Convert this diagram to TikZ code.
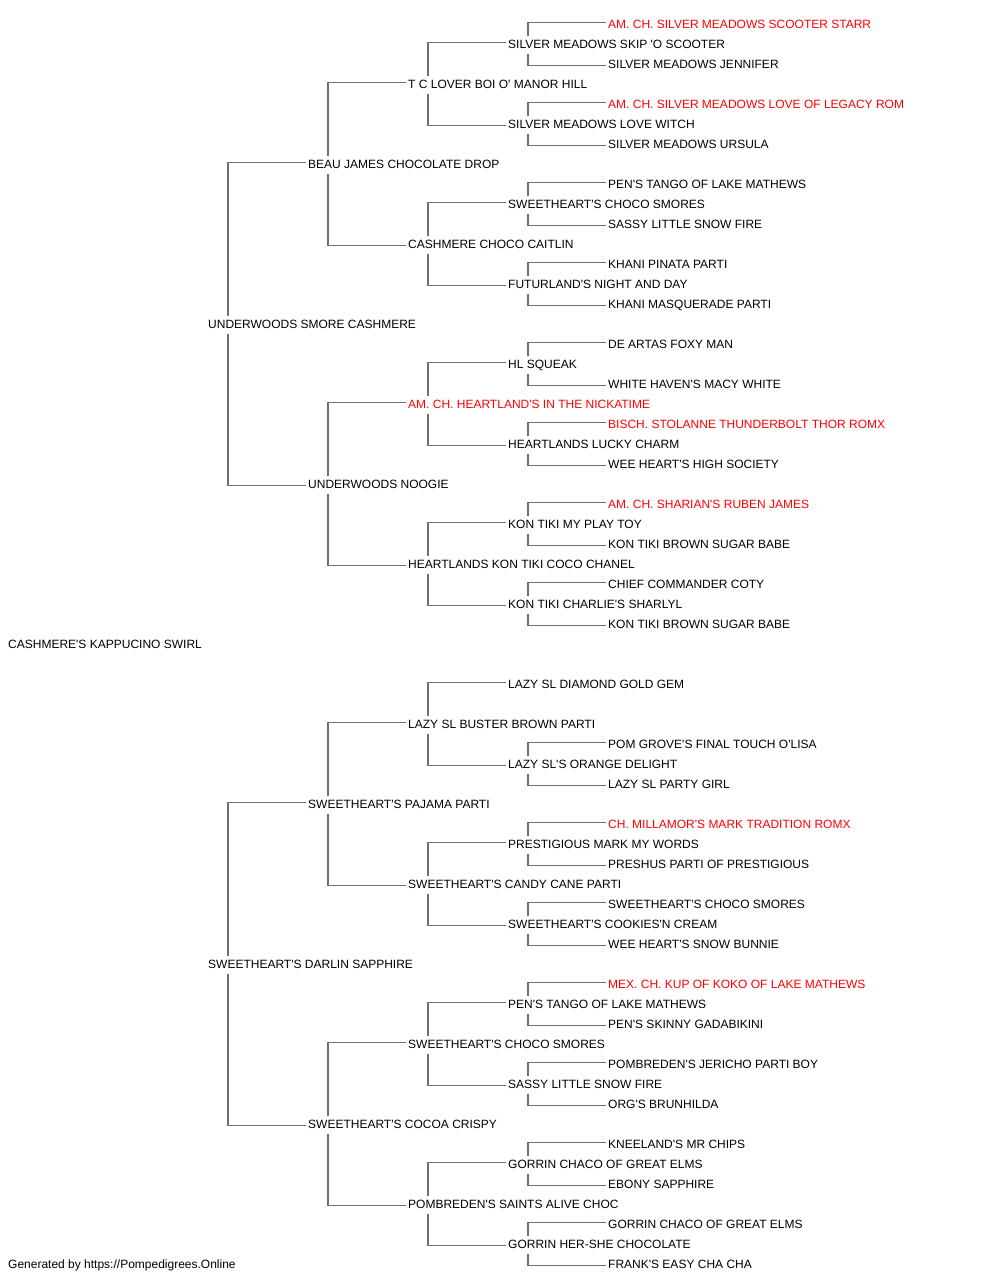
\documentclass[tikz,border=0pt]{standalone}
\usepackage{fontspec}
\setmainfont{Liberation Sans}[Ligatures=TeXOff]
\usepackage{tikz}
\usetikzlibrary{calc}
\definecolor{linkgray}{HTML}{707070}
\definecolor{champred}{HTML}{FF0000}
\tikzset{
  dog/.style={anchor=west, inner sep=0pt, text height=8.6pt, text depth=0pt, font=\fontsize{12}{14}\selectfont},
  link/.style={draw=linkgray, line width=1.8pt},
}

\begin{document}
\begin{tikzpicture}[x=1pt, y=-1pt]
  \useasboundingbox (0,0) rectangle (1000,1280);

  %% === Names: row / column / colour / text ===
  % row k sits at y = 24 + 20k, column c at x = 8 + 100c
  \foreach \k/\c/\col/\txt in {
    0/6/champred/AM. CH. SILVER MEADOWS SCOOTER STARR,
    1/5/black/SILVER MEADOWS SKIP 'O SCOOTER,
    2/6/black/SILVER MEADOWS JENNIFER,
    3/4/black/T C LOVER BOI O' MANOR HILL,
    4/6/champred/AM. CH. SILVER MEADOWS LOVE OF LEGACY ROM,
    5/5/black/SILVER MEADOWS LOVE WITCH,
    6/6/black/SILVER MEADOWS URSULA,
    7/3/black/BEAU JAMES CHOCOLATE DROP,
    8/6/black/PEN'S TANGO OF LAKE MATHEWS,
    9/5/black/SWEETHEART'S CHOCO SMORES,
    10/6/black/SASSY LITTLE SNOW FIRE,
    11/4/black/CASHMERE CHOCO CAITLIN,
    12/6/black/KHANI PINATA PARTI,
    13/5/black/FUTURLAND'S NIGHT AND DAY,
    14/6/black/KHANI MASQUERADE PARTI,
    15/2/black/UNDERWOODS SMORE CASHMERE,
    16/6/black/DE ARTAS FOXY MAN,
    17/5/black/HL SQUEAK,
    18/6/black/WHITE HAVEN'S MACY WHITE,
    19/4/champred/AM. CH. HEARTLAND'S IN THE NICKATIME,
    20/6/champred/BISCH. STOLANNE THUNDERBOLT THOR ROMX,
    21/5/black/HEARTLANDS LUCKY CHARM,
    22/6/black/WEE HEART'S HIGH SOCIETY,
    23/3/black/UNDERWOODS NOOGIE,
    24/6/champred/AM. CH. SHARIAN'S RUBEN JAMES,
    25/5/black/KON TIKI MY PLAY TOY,
    26/6/black/KON TIKI BROWN SUGAR BABE,
    27/4/black/HEARTLANDS KON TIKI COCO CHANEL,
    28/6/black/CHIEF COMMANDER COTY,
    29/5/black/KON TIKI CHARLIE'S SHARLYL,
    30/6/black/KON TIKI BROWN SUGAR BABE,
    31/0/black/CASHMERE'S KAPPUCINO SWIRL,
    33/5/black/LAZY SL DIAMOND GOLD GEM,
    35/4/black/LAZY SL BUSTER BROWN PARTI,
    36/6/black/POM GROVE'S FINAL TOUCH O'LISA,
    37/5/black/LAZY SL'S ORANGE DELIGHT,
    38/6/black/LAZY SL PARTY GIRL,
    39/3/black/SWEETHEART'S PAJAMA PARTI,
    40/6/champred/CH. MILLAMOR'S MARK TRADITION ROMX,
    41/5/black/PRESTIGIOUS MARK MY WORDS,
    42/6/black/PRESHUS PARTI OF PRESTIGIOUS,
    43/4/black/SWEETHEART'S CANDY CANE PARTI,
    44/6/black/SWEETHEART'S CHOCO SMORES,
    45/5/black/SWEETHEART'S COOKIES'N CREAM,
    46/6/black/WEE HEART'S SNOW BUNNIE,
    47/2/black/SWEETHEART'S DARLIN SAPPHIRE,
    48/6/champred/MEX. CH. KUP OF KOKO OF LAKE MATHEWS,
    49/5/black/PEN'S TANGO OF LAKE MATHEWS,
    50/6/black/PEN'S SKINNY GADABIKINI,
    51/4/black/SWEETHEART'S CHOCO SMORES,
    52/6/black/POMBREDEN'S JERICHO PARTI BOY,
    53/5/black/SASSY LITTLE SNOW FIRE,
    54/6/black/ORG'S BRUNHILDA,
    55/3/black/SWEETHEART'S COCOA CRISPY,
    56/6/black/KNEELAND'S MR CHIPS,
    57/5/black/GORRIN CHACO OF GREAT ELMS,
    58/6/black/EBONY SAPPHIRE,
    59/4/black/POMBREDEN'S SAINTS ALIVE CHOC,
    60/6/black/GORRIN CHACO OF GREAT ELMS,
    61/5/black/GORRIN HER-SHE CHOCOLATE,
    62/6/black/FRANK'S EASY CHA CHA}
    \node[dog, text=\col] (r\k) at ({8+100*\c}, {24+20*\k}) {\txt};

  %% === Brackets: row of the dog / offset to its sire and dam ===
  \foreach \p/\o in {15/8, 47/8,
      7/4, 23/4, 39/4, 55/4,
      3/2, 11/2, 19/2, 27/2, 35/2, 43/2, 51/2, 59/2,
      1/1, 5/1, 9/1, 13/1, 17/1, 21/1, 25/1, 29/1,
      37/1, 41/1, 45/1, 49/1, 53/1, 57/1, 61/1} {
    \pgfmathtruncatemacro\s{\p-\o}
    \pgfmathtruncatemacro\d{\p+\o}
    \draw[link] ([xshift=20pt, yshift=3.7pt]r\p.north west) |- ([xshift=-2pt, yshift=1.5pt]r\s.west);
    \draw[link] ([xshift=20pt, yshift=-5.7pt]r\p.south west) |- ([xshift=-2pt, yshift=-1.5pt]r\d.west);
  }

  % Footer
  \node[dog] (footer) at (8,1264) {Generated by https://Pompedigrees.Online};
\end{tikzpicture}
\end{document}
